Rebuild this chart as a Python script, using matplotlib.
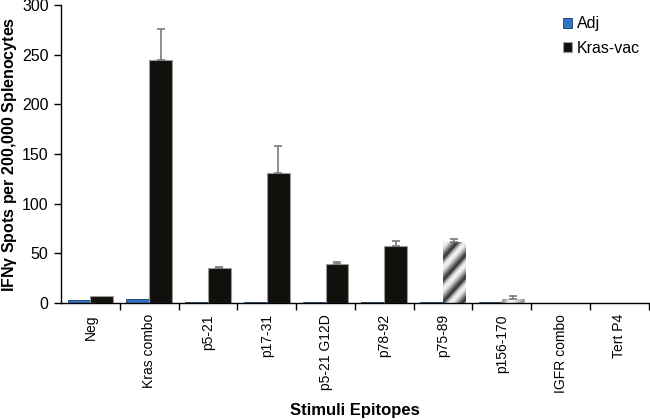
import numpy as np
import matplotlib
matplotlib.use('Agg')
import matplotlib.pyplot as plt
from matplotlib.ticker import FixedLocator

plt.rcParams['font.family'] = ['Liberation Sans', 'DejaVu Sans']

epitopes = ['Neg', 'Kras combo', 'p5-21', 'p17-31', 'p5-21 G12D', 'p78-92',
            'p75-89', 'p156-170', 'IGFR combo', 'Tert P4']
adj = [3, 4, 1, 0.5, 1, 0.5, 1, 1, 0, 0]
kras_vac = [7, 245, 35, 131, 39, 57, 61, 4, 0, 0]
kras_err = [0, 31, 1, 27, 2, 5, 3, 3, 0, 0]
striped = ['p75-89', 'p156-170']

fig = plt.figure(figsize=(6.5, 4.19), dpi=100)
ax = fig.add_axes([0.094, 0.277, 0.904, 0.711])

x = np.arange(len(epitopes))
w = 0.39
ax.bar(x - w / 2, adj, w, color='#2f74c5', edgecolor='#1a3a66', linewidth=0.6, label='Adj')
bars = ax.bar(x + w / 2, kras_vac, w, color='#12100d', edgecolor='#9a9a9a', linewidth=0.8,
              label='Kras-vac')
for b, v in zip(bars, kras_vac):
    if v == 0:
        b.set_linewidth(0)

err = np.array(kras_err)
has_err = err > 0
ax.errorbar((x + w / 2)[has_err], np.array(kras_vac)[has_err],
            yerr=[np.zeros(has_err.sum()), err[has_err]], fmt='none',
            ecolor='#7a7a7a', elinewidth=1.2, capsize=3, capthick=1.2)

# diagonal gray gradient stripes ("/" direction) on the patterned bars
for lab, b in zip(epitopes, bars):
    if lab in striped:
        b.set_facecolor('white')
        b.set_edgecolor('white')
        x0 = b.get_x()
        hpx = max(b.get_height(), 1) * 0.993
        wpx = 23.0
        vv, uu = np.mgrid[0:1:120j, 0:1:60j]
        phase = ((vv * hpx - uu * wpx * 1.1) / 22.0) % 1.0
        pattern = 0.2 + 0.75 * np.abs(np.sin(np.pi * phase ** 1.4))
        if hpx < 10:
            pattern = 0.5 + 0.5 * pattern
        im = ax.imshow(pattern, cmap='gray', vmin=0, vmax=1, aspect='auto',
                       extent=[x0, x0 + b.get_width(), 0, max(b.get_height(), 1)],
                       origin='lower', zorder=1.5, interpolation='bilinear')
        im.set_clip_path(b)

ax.set_xlim(-0.5, len(epitopes) - 0.5)
ax.set_ylim(0, 300)
ax.set_yticks(range(0, 301, 50))
ax.set_xticks(x)
ax.set_xticklabels(epitopes, rotation=90, fontsize=10)
ax.xaxis.set_minor_locator(FixedLocator(np.arange(0.5, len(epitopes), 1)))
ax.tick_params(axis='x', which='major', length=0, pad=8)
ax.tick_params(axis='x', which='minor', length=5, width=1, direction='out')
ax.tick_params(axis='y', labelsize=11.5, length=5, width=1, direction='out', pad=4)

for s in ['top', 'right']:
    ax.spines[s].set_visible(False)
for s in ['left', 'bottom']:
    ax.spines[s].set_linewidth(1)

ax.set_ylabel('IFN$\\mathregular{\\gamma}$ Spots per 200,000 Splenocytes', fontsize=11.5,
              fontweight='bold')
ax.yaxis.set_label_coords(-0.071, 0.5)
ax.set_xlabel('Stimuli Epitopes', fontsize=12, fontweight='bold', labelpad=7)

ax.legend(loc='upper right', bbox_to_anchor=(1.01, 1.01), frameon=False, fontsize=11.5,
          handlelength=0.6, handleheight=0.6, handletextpad=0.3, labelspacing=0.6)

fig.savefig('out.png', dpi=100)
